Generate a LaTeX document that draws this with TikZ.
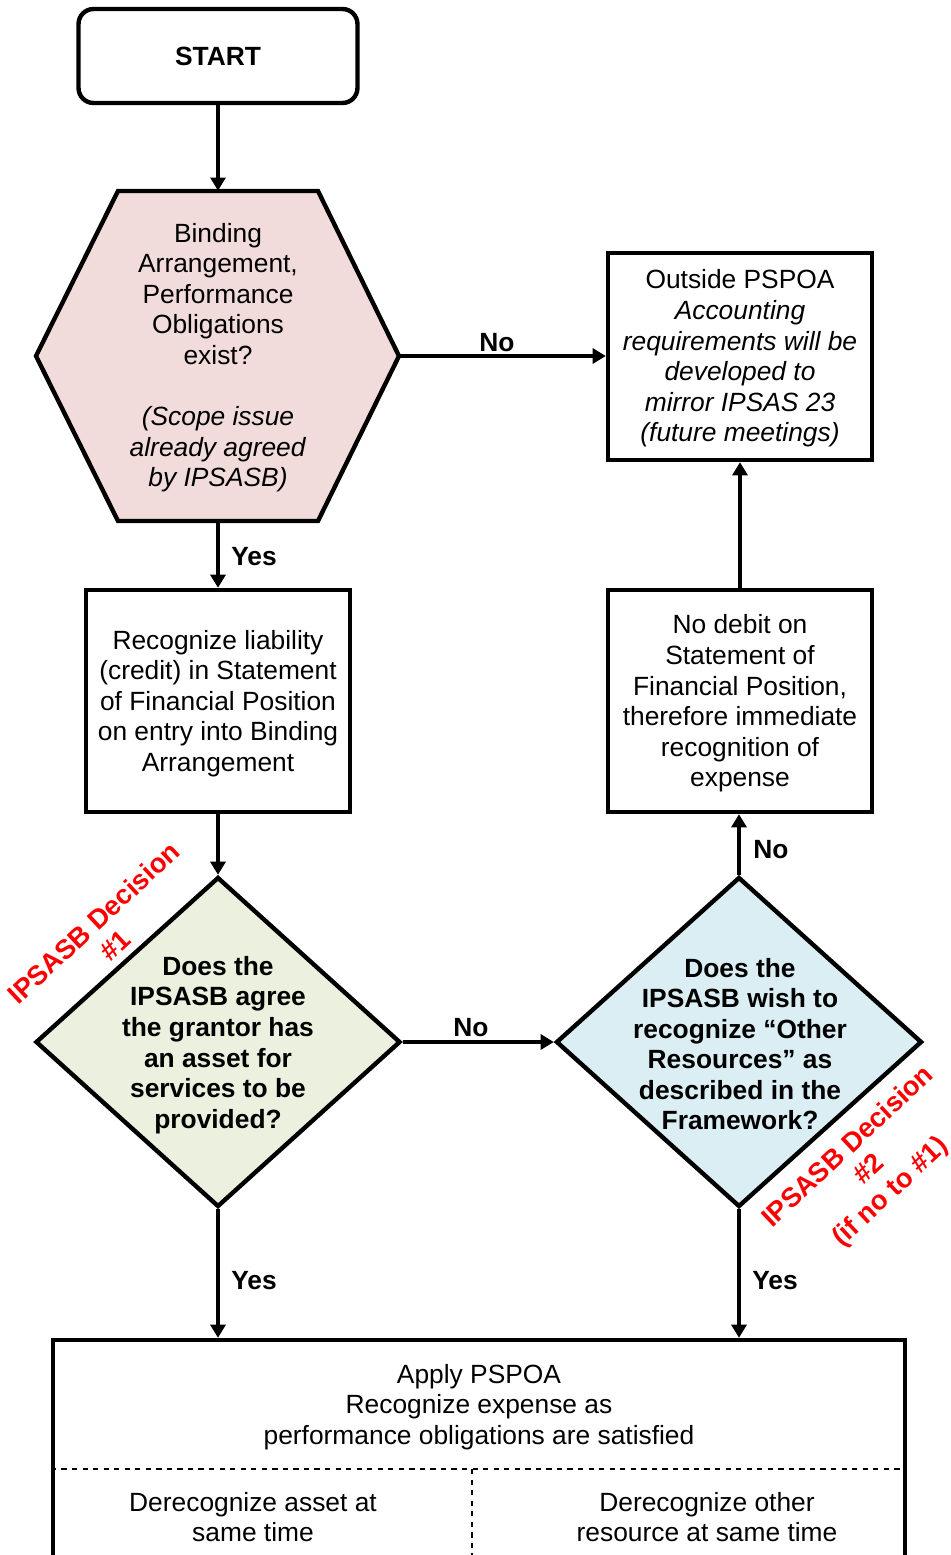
\documentclass[tikz,border=0pt]{standalone}
\usepackage{fontspec}
\setmainfont{Liberation Sans}
\usetikzlibrary{shapes.geometric,arrows.meta}
\definecolor{hexpink}{HTML}{F2DCDB}
\definecolor{dgreen}{HTML}{EBF1DE}
\definecolor{dblue}{HTML}{DBEEF4}
\begin{document}
\begin{tikzpicture}[x=0.02cm,y=-0.02cm,
  every node/.style={font=\fontsize{15}{17.4}\selectfont, align=center, inner sep=0pt},
  box/.style={draw, line width=2.5pt, rectangle, minimum width=5.28cm},
  arr/.style={line width=2.5pt, -{Triangle[length=7.5pt,width=8.5pt]}},
  lbl/.style={font=\fontsize{15}{17.4}\selectfont\bfseries},
  dec/.style={font=\fontsize{15.5}{17.6}\selectfont\bfseries, text=red, rotate=43},
  dia/.style={draw, line width=2.5pt, diamond, minimum width=7.3cm, minimum height=6.6cm},
  bold/.style={font=\fontsize{15}{17.4}\selectfont\bfseries},
]
\clip (0,0) rectangle (950,1555);
\fill[white] (0,0) rectangle (950,1555);

% START
\node[draw, line width=2.5pt, rounded corners=0.3cm, minimum width=5.58cm, minimum height=1.88cm, bold] (start) at (218,56) {START};

% Hexagon
\draw[line width=2.5pt, fill=hexpink, line join=miter] (118,191) -- (318,191) -- (399,356) -- (318,521) -- (118,521) -- (36,356) -- cycle;
\node[minimum width=7.26cm, minimum height=6.6cm] (hex) at (218,356) {};
\node (hext) at (218,357.5) {Binding\\Arrangement,\\Performance\\Obligations\\exist?\\ \\\textit{(Scope issue}\\\textit{already agreed}\\\textit{by IPSASB)}};

% Outside PSPOA
\node[box, minimum height=4.14cm] (out) at (740,356.5) {};
\node (outt) at (740,358.5) {Outside PSPOA\\\textit{Accounting}\\\textit{requirements will be}\\\textit{developed to}\\\textit{mirror IPSAS 23}\\\textit{(future meetings)}};

% Recognize liability
\node[box, minimum height=4.44cm] (rec) at (218,701) {};
\node (rect) at (218,703.5) {Recognize liability\\(credit) in Statement\\of Financial Position\\on entry into Binding\\Arrangement};

% No debit
\node[box, minimum height=4.44cm] (nod) at (740,701) {};
\node (nodt) at (740,703.5) {No debit on\\Statement of\\Financial Position,\\therefore immediate\\recognition of\\expense};

% Diamonds
\node[dia, fill=dgreen] (d1) at (218,1042) {};
\node[bold] (d1t) at (218,1045) {Does the\\IPSASB agree\\the grantor has\\an asset for\\services to be\\provided?};
\node[dia, fill=dblue, minimum width=7.32cm] (d2) at (739,1042) {};
\node[bold] (d2t) at (740,1044) {Does the\\IPSASB wish to\\recognize “Other\\Resources” as\\described in the\\Framework?};

% Bottom box
\node[draw, line width=2.5pt, minimum width=17.04cm, minimum height=4.8cm] (bot) at (479,1460) {};
\node (botA) at (479,1407) {Apply PSPOA\\Recognize expense as\\performance obligations are satisfied};
\node (botB) at (253,1517) {Derecognize asset at\\same time};
\node (botC) at (707,1517) {Derecognize other\\resource at same time};
\coordinate (dl) at (472,1469);
\draw[dashed, line width=1pt] (bot.west |- dl) -- (bot.east |- dl);
\draw[dashed, line width=1pt] (dl) -- (dl |- bot.south);

% Arrows
\draw[arr] (start) -- (hex);
\draw[arr] (hex.east) -- (hex.east -| out.west);
\draw[arr] (hex) -- (rec);
\draw[arr] (rec) -- (d1);
\draw[arr] (d1.east) -- (d2.west);
\draw[arr] (d2.north) -- (d2.north |- nod.south);
\draw[arr] (nod.north) -- (nod.north |- out.south);
\draw[arr] (d1.south) -- (d1.south |- bot.north);
\draw[arr] (d2.south) -- (d2.south |- bot.north);

% Labels
\node[lbl] (l1) at (497,343) {No};
\node[lbl] (l2) at (254,557) {Yes};
\node[lbl] (l3) at (471,1028) {No};
\node[lbl] (l4) at (771,850) {No};
\node[lbl] (l5) at (254,1281) {Yes};
\node[lbl] (l6) at (775,1281) {Yes};

% Decisions
\node[dec] (dec1) at (104,934) {IPSASB Decision\\\#1};
\node[dec] (dec2) at (870,1170) {IPSASB Decision\\\#2\\(if no to \#1)};
\end{tikzpicture}
\end{document}
